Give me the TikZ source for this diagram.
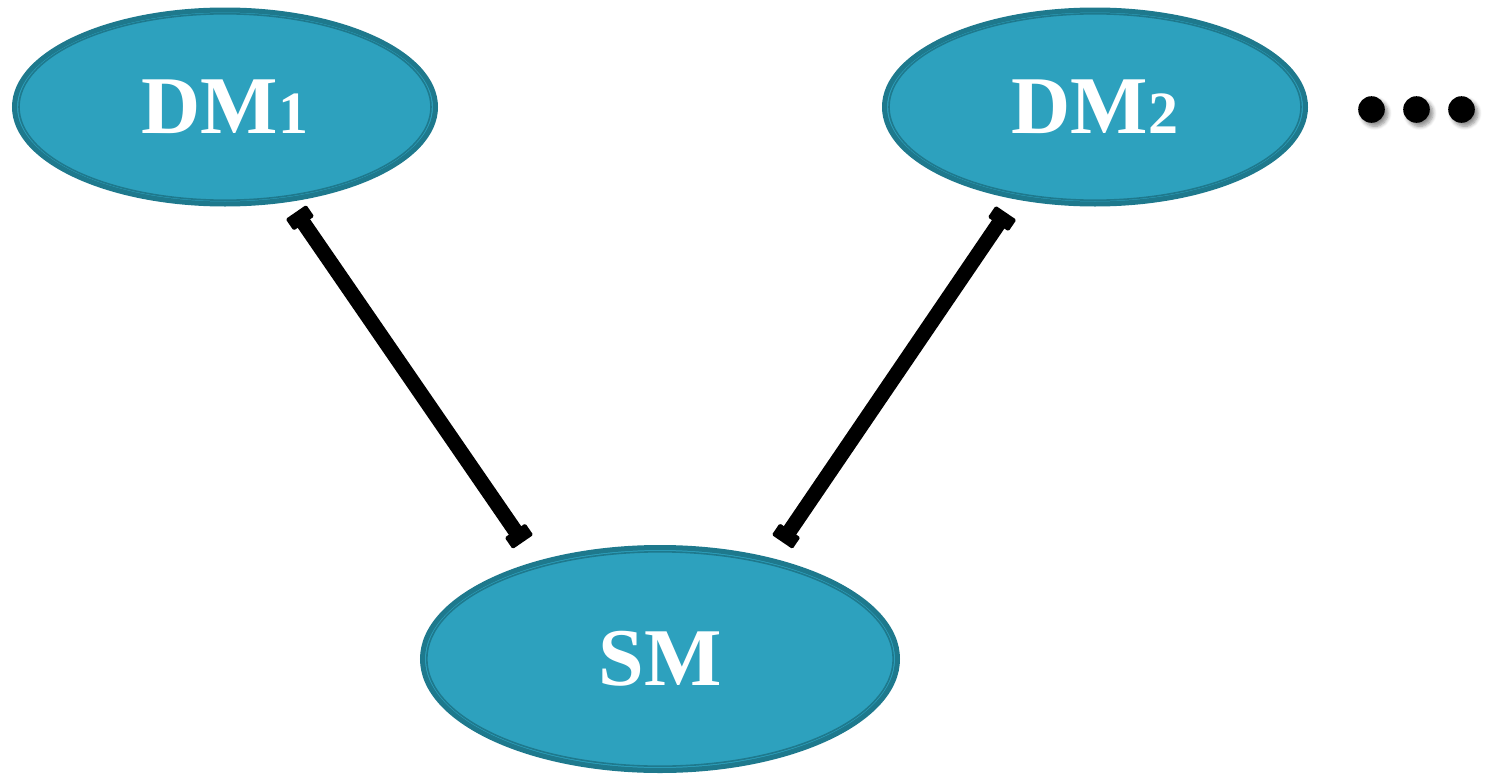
\documentclass[tikz,border=0pt]{standalone}
\usepackage{fontspec}
\setmainfont{Liberation Serif}
\usetikzlibrary{shapes.geometric,arrows.meta,shadows.blur}

\definecolor{tealfill}{RGB}{45,161,190}
\definecolor{tealedge}{RGB}{30,121,141}

% short digit, in the manner of old-style figures
\newcommand{\osdigit}[1]{{\fontsize{30}{31}\selectfont\bfseries #1}}

\tikzset{
  module/.style={ellipse, fill=tealfill, draw=tealedge, line width=2.5pt,
    inner sep=0pt, outer sep=0pt, text=white,
    font=\fontsize{41}{46}\selectfont\bfseries},
  ringline/.style={draw=tealedge, line width=0.8pt},
  link/.style={line width=7.5pt, draw=black,
    {Rectangle[round, length=7pt, width=12.5pt, line width=1.5pt]}-{Rectangle[round, length=7pt, width=12.5pt, line width=1.5pt]}},
  dot/.style={circle, fill=black, inner sep=0pt, minimum size=13.3pt,
    blur shadow={shadow xshift=1.6pt, shadow yshift=-1.8pt, shadow blur steps=6, shadow opacity=45}}
}

\begin{document}
\begin{tikzpicture}[x=0.5pt, y=-0.5pt]
  \path[use as bounding box] (0,0) rectangle (1485,777);

  % modules
  \node[module, minimum width=210.5pt, minimum height=97pt] (dm1) at (225,107) {\bfseries DM\osdigit{1}};
  \node[module, minimum width=210.5pt, minimum height=97pt] (dm2) at (1095,107) {\bfseries DM\osdigit{2}};
  \node[module, minimum width=237.5pt, minimum height=111.5pt] (sm) at (660,659) {\bfseries SM};

  % inner decorative rings
  \draw[ringline] (dm1.center) ellipse [x radius=103pt, y radius=46.6pt];
  \draw[ringline] (dm2.center) ellipse [x radius=103pt, y radius=46.6pt];
  \draw[ringline] (sm.center) ellipse [x radius=116.6pt, y radius=53.6pt];

  % links between the modules
  \draw[link, shorten <=7.5pt, shorten >=13pt] (dm1.-56.3) -- (sm.142.4);
  \draw[link, shorten <=9.5pt, shorten >=11pt] (dm2.-131.4) -- (sm.42.3);

  % continuation dots
  \node[dot] (d1) at (1371.5,109.5) {};
  \node[dot] (d2) at (1416.5,109.5) {};
  \node[dot] (d3) at (1461.5,109.5) {};
\end{tikzpicture}
\end{document}
